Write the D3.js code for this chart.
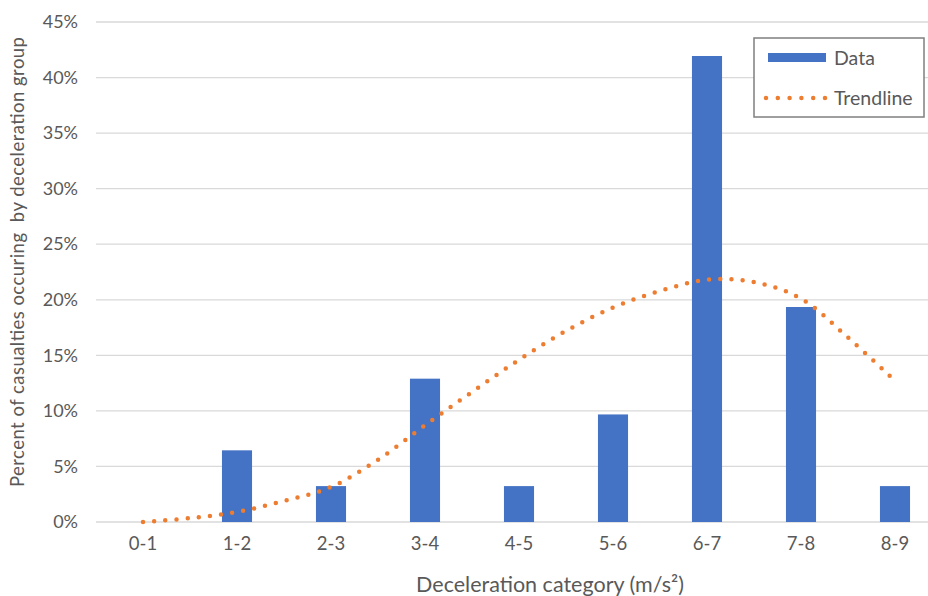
<!DOCTYPE html>
<html><head><meta charset="utf-8">
<script src="https://cdn.jsdelivr.net/npm/d3@7"></script>
<style>body{margin:0;background:#fff}svg{display:block;font-family:Lato,"Open Sans",sans-serif}</style>
</head><body><svg id="c" width="928" height="596"></svg>
<script>
const categories = ["0-1","1-2","2-3","3-4","4-5","5-6","6-7","7-8","8-9"];
const dataValues = [0, 6.45, 3.23, 12.9, 3.23, 9.68, 41.94, 19.35, 3.23];
// trendline read at category centres and half-way points (index, percent)
const trendIndex = [0, 0.5, 1, 1.5, 2, 2.5, 3, 3.5, 4, 4.5, 5, 5.5, 6, 6.5, 7, 7.5, 8];
const trendValues = [0, 0.35, 0.9, 1.9, 3.15, 5.6, 8.7, 11.7, 14.6, 17.2, 19.3, 20.8, 21.8, 21.6, 20.1, 16.6, 12.7];
const yTicks = [0, 5, 10, 15, 20, 25, 30, 35, 40, 45];

const svg = d3.select("#c");
const L = 96, R = 942, T = 22, B = 522;
const x = d3.scaleBand().domain(categories).range([L, R]).paddingInner(0.68).paddingOuter(0.34);
const xc = d3.scaleLinear().domain([0, 8]).range([x(categories[0]) + x.bandwidth()/2, x(categories[8]) + x.bandwidth()/2]);
const y = d3.scaleLinear().domain([0, 45]).range([B, T]);

// gridlines
svg.append("g").selectAll("line").data(yTicks).join("line")
  .attr("x1", L).attr("x2", R).attr("y1", d => y(d)).attr("y2", d => y(d))
  .attr("stroke", "#d9d9d9").attr("stroke-width", 1.3);

// y axis labels
const yAxis = d3.axisLeft(y).tickValues(yTicks).tickFormat(d => d + "%").tickSize(0).tickPadding(0);
const ga = svg.append("g").attr("transform", `translate(78,0)`).call(yAxis);
ga.select(".domain").remove();
ga.selectAll("text").attr("fill", "#595959").attr("font-size", 18).attr("font-family", "Lato");

// bars
svg.append("g").selectAll("rect").data(categories.map((c, i) => ({c, v: dataValues[i]})).filter(d => d.v > 0)).join("rect")
  .attr("x", d => x(d.c)).attr("width", x.bandwidth())
  .attr("y", d => y(d.v)).attr("height", d => y(0) - y(d.v))
  .attr("fill", "#4472C4");

// x axis labels
const xAxis = d3.axisBottom(x).tickSize(0).tickPadding(0);
const gx = svg.append("g").attr("transform", `translate(0,539)`).call(xAxis);
gx.select(".domain").remove();
gx.selectAll("text").attr("fill", "#595959").attr("font-size", 18.5).attr("font-family", "Lato").attr("dy", "0.6em");

// trendline
const line = d3.line().x(d => xc(d[0])).y(d => y(d[1])).curve(d3.curveCatmullRom);
svg.append("path").datum(trendIndex.map((t, i) => [t, trendValues[i]]))
  .attr("d", line).attr("fill", "none").attr("stroke", "#ED7D31")
  .attr("stroke-width", 4.5).attr("stroke-linecap", "round").attr("stroke-dasharray", "0 11.2");

// axis titles
svg.append("text").attr("x", 550).attr("y", 592).attr("text-anchor", "middle")
  .attr("fill", "#595959").attr("font-size", 21.5).text("Deceleration category (m/s²)");
svg.append("text").attr("transform", "translate(24,262) rotate(-90)").attr("text-anchor", "middle")
  .attr("fill", "#595959").attr("font-size", 18.5).attr("xml:space", "preserve").style("white-space", "pre")
  .attr("textLength", 450).attr("lengthAdjust", "spacing")
  .text("Percent of casualties occuring  by deceleration group");

// legend
const lg = svg.append("g");
lg.append("rect").attr("x", 754).attr("y", 38).attr("width", 170).attr("height", 79)
  .attr("fill", "#fff").attr("stroke", "#7f7f7f").attr("stroke-width", 1.5);
lg.append("rect").attr("x", 768).attr("y", 53).attr("width", 58).attr("height", 9).attr("fill", "#4472C4");
lg.append("text").attr("x", 834).attr("y", 58).attr("dy", "0.35em").attr("fill", "#595959").attr("font-size", 19.5).text("Data");
lg.append("line").attr("x1", 766).attr("x2", 826).attr("y1", 98).attr("y2", 98)
  .attr("stroke", "#ED7D31").attr("stroke-width", 4.5).attr("stroke-linecap", "round").attr("stroke-dasharray", "0 11.8");
lg.append("text").attr("x", 834).attr("y", 98).attr("dy", "0.35em").attr("fill", "#595959").attr("font-size", 19.5).text("Trendline");
</script></body></html>
